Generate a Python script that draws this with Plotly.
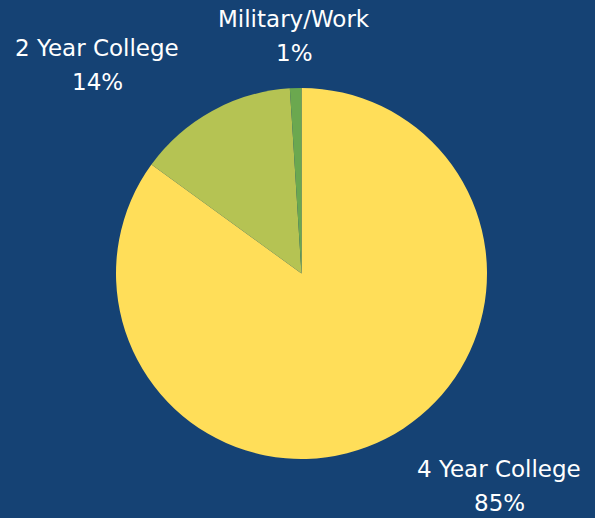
import plotly.graph_objects as go

labels = ["4 Year College", "2 Year College", "Military/Work"]
values = [85, 14, 1]
colors = ["#FFDE59", "#B5C353", "#6BA84F"]
# label anchor positions (pixels: center x, middle y of name line, middle y of percent line)
label_pos = [(499, 469, 503), (97, 48, 82), (294, 19, 53)]

W, H = 595, 518
BG = "#154274"

fig = go.Figure(go.Pie(
    labels=labels, values=values, sort=False, direction="clockwise", rotation=0,
    marker=dict(colors=colors, line=dict(width=0)),
    textinfo="none", hoverinfo="label+percent", showlegend=False,
    domain=dict(x=[116 / W, 487 / W], y=[(H - 459) / H, (H - 88) / H]),
))

font = dict(family="DejaVu Sans", size=23, color="white")
for lab, val, (px, py1, py2) in zip(labels, values, label_pos):
    for txt, py in ((lab, py1), (f"{val}%", py2)):
        fig.add_annotation(
            x=px / W, y=1 - py / H, xref="paper", yref="paper",
            xanchor="center", yanchor="middle", showarrow=False,
            text=txt, align="center", font=font,
        )

fig.update_layout(
    width=W, height=H, margin=dict(l=0, r=0, t=0, b=0),
    paper_bgcolor=BG, plot_bgcolor=BG,
)
fig.write_html(
    "out.html",
    config={"displayModeBar": False},
    post_script="document.body.style.margin='0';document.body.style.overflow='hidden';",
)
